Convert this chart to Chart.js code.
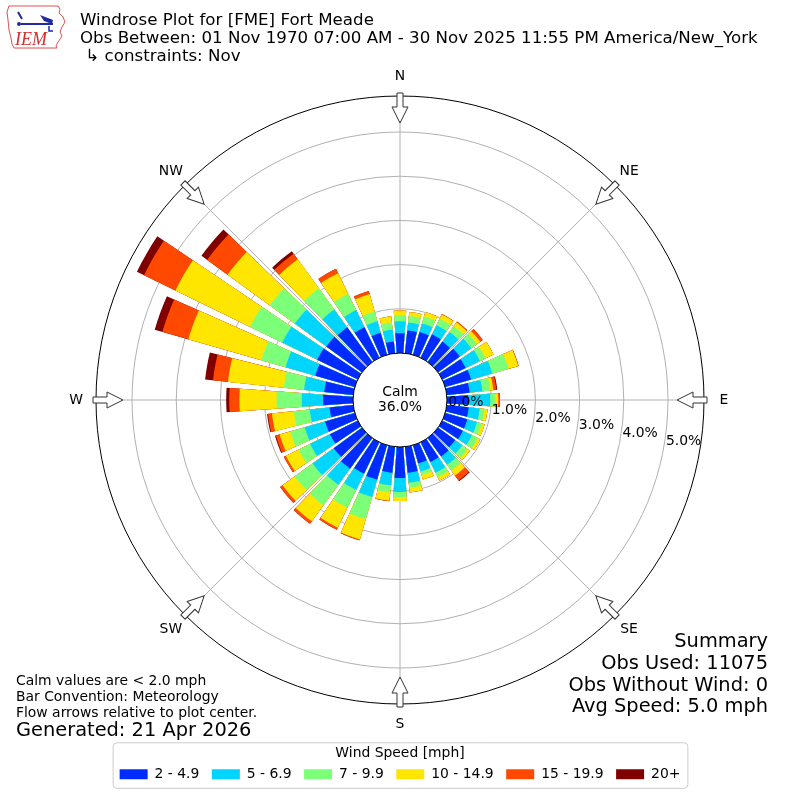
<!DOCTYPE html>
<html lang="en">
<head>
<meta charset="utf-8">
<title>Windrose Plot for [FME] Fort Meade</title>
<script src="https://cdn.jsdelivr.net/npm/chart.js@4.4.1/dist/chart.umd.min.js"></script>
<style>
  html, body { margin: 0; padding: 0; background: #ffffff; }
  #frame { position: relative; width: 800px; height: 800px; }
</style>
</head>
<body>
<div id="frame"><canvas id="windrose"></canvas></div>
<script>
// direction bins, degrees clockwise from north (meteorological convention)
const directions = [0, 10, 20, 30, 40, 50, 60, 70, 80, 90, 100, 110, 120, 130, 140, 150, 160, 170,
                    180, 190, 200, 210, 220, 230, 240, 250, 260, 270, 280, 290, 300, 310, 320, 330, 340, 350];
const compassLabels = ["N", "NE", "E", "SE", "S", "SW", "W", "NW"];
const speedBins = ["2 - 4.9", "5 - 6.9", "7 - 9.9", "10 - 14.9", "15 - 19.9", "20+"];
const binColors = ["#002bff", "#00d5ff", "#7cff79", "#ffe600", "#ff4800", "#800000"];

// percent of all observations, one value per direction bin
const bin2to5 = [0.45, 0.52, 0.54, 0.59, 0.57, 0.61, 0.59, 0.61, 0.52, 0.48, 0.50, 0.52,
                 0.52, 0.48, 0.52, 0.50, 0.43, 0.59, 0.70, 0.59, 0.81, 0.79, 0.86, 0.79,
                 0.70, 0.70, 0.54, 0.68, 0.66, 0.93, 1.02, 1.00, 0.97, 0.77, 0.52, 0.27];
const bin5to7 = [0.27, 0.18, 0.20, 0.23, 0.27, 0.32, 0.36, 0.50, 0.29, 0.50, 0.25, 0.23,
                 0.23, 0.20, 0.23, 0.27, 0.19, 0.23, 0.32, 0.29, 0.41, 0.41, 0.45, 0.59,
                 0.50, 0.48, 0.45, 0.48, 0.46, 0.70, 0.88, 0.88, 0.50, 0.43, 0.27, 0.27];
const bin7to10 = [0.14, 0.15, 0.16, 0.16, 0.16, 0.16, 0.14, 0.38, 0.18, 0.11, 0.11, 0.11,
                  0.14, 0.14, 0.16, 0.11, 0.08, 0.11, 0.11, 0.16, 0.52, 0.45, 0.57, 0.50,
                  0.29, 0.34, 0.36, 0.57, 0.46, 0.57, 0.81, 0.70, 0.59, 0.41, 0.23, 0.16];
const bin10to15 = [0.10, 0.09, 0.11, 0.11, 0.11, 0.09, 0.20, 0.23, 0.07, 0.07, 0.07, 0.07,
                   0.07, 0.07, 0.14, 0.09, 0.11, 0.11, 0.09, 0.19, 0.48, 0.50, 0.45, 0.34,
                   0.32, 0.25, 0.50, 0.84, 1.27, 1.72, 1.88, 1.18, 0.81, 0.52, 0.41, 0.14];
const bin15to20 = [0, 0, 0, 0.01, 0.02, 0.07, 0, 0.01, 0.07, 0.04, 0, 0,
                   0, 0, 0.14, 0, 0, 0, 0, 0.01, 0.02, 0.05, 0.07, 0.07,
                   0.05, 0.09, 0.09, 0.23, 0.34, 0.61, 0.79, 0.57, 0.16, 0.11, 0.07, 0];
const bin20plus = [0, 0, 0, 0, 0, 0, 0, 0, 0.02, 0, 0, 0,
                   0, 0, 0.02, 0, 0, 0, 0, 0, 0, 0, 0, 0,
                   0, 0.02, 0.02, 0.07, 0.18, 0.18, 0.18, 0.16, 0.07, 0, 0, 0];

const calmPercent = 36.0;
const ringTicks = [0, 1, 2, 3, 4, 5];
const holeSize = 1.063;   // radius of the calm hole, in % units
const outerLimit = 5.815; // outer edge of the plot, in % units

const binValues = [bin2to5, bin5to7, bin7to10, bin10to15, bin15to20, bin20plus];

// running totals so each ring sits on top of the slower ones
const cumulative = [];
let running = directions.map(() => 0);
binValues.forEach(vals => {
    running = running.map((v, i) => v + vals[i]);
    cumulative.push(running.slice());
});

// polarArea slices run clockwise from north, so put a half gap first and
// north last (it wraps back over 0 deg); gaps between bars are null slices
const barAngle = 8;
const gapAngle = 2;
function toSlices(vals) {
    const slices = [null];
    directions.forEach((d, i) => {
        if (d !== 0) slices.push(vals[i], null);
    });
    slices.pop();
    slices.push(null, vals[0]);
    return slices;
}

const datasets = speedBins.map((label, i) => ({
    label: label,
    data: toSlices(cumulative[i]),
    backgroundColor: binColors[i],
    borderWidth: 0,
    angle: ctx => ctx.dataIndex === 0 ? barAngle / 2 + gapAngle : (ctx.dataIndex % 2 ? barAngle : gapAngle),
}));

const fontFamily = "'DejaVu Sans', 'Liberation Sans', sans-serif";
Chart.defaults.font.family = fontFamily;
Chart.defaults.color = "#000";

function drawLogo(ctx) {
    ctx.save();
    ctx.strokeStyle = "#d9534f";
    ctx.lineWidth = 1;
    ctx.beginPath();
    const outline = [[9, 6], [58, 6], [60, 9], [59, 13], [63, 17], [65, 22], [62, 27], [60, 32],
                     [62, 36], [58, 42], [56, 46], [57, 48], [14, 48], [12, 44], [11, 38], [9, 30],
                     [8, 20], [7, 12]];
    outline.forEach(([x, y], i) => i ? ctx.lineTo(x, y) : ctx.moveTo(x, y));
    ctx.closePath();
    ctx.stroke();
    ctx.strokeStyle = "#1f2a9c";
    ctx.fillStyle = "#1f2a9c";
    ctx.lineWidth = 2;
    ctx.beginPath();
    ctx.moveTo(21, 24); ctx.lineTo(53, 24);
    ctx.moveTo(18, 12); ctx.lineTo(22, 19);
    ctx.stroke();
    ctx.beginPath();
    ctx.moveTo(40, 15); ctx.lineTo(53, 20); ctx.lineTo(52, 24); ctx.lineTo(44, 21);
    ctx.closePath();
    ctx.fill();
    ctx.beginPath();
    ctx.arc(19, 24, 2, 0, Math.PI * 2);
    ctx.fill();
    ctx.lineWidth = 1.5;
    ctx.beginPath();
    ctx.moveTo(49, 26); ctx.lineTo(49, 31); ctx.lineTo(53, 31);
    ctx.stroke();
    ctx.fillStyle = "#d32f2f";
    ctx.font = "italic 18px 'Liberation Serif', serif";
    ctx.textAlign = "left";
    ctx.textBaseline = "alphabetic";
    ctx.fillText("IEM", 15, 45);
    ctx.restore();
}

const roseDecor = {
    id: "roseDecor",
    afterDraw(chart) {
        const ctx = chart.ctx;
        const scale = chart.scales.r;
        const cx = scale.xCenter, cy = scale.yCenter, R = scale.drawingArea;
        const small = "13.9px " + fontFamily;
        const big = "19.4px " + fontFamily;
        ctx.save();

        // calm hole
        const hole = scale.getDistanceFromCenterForValue(0);
        ctx.beginPath();
        ctx.arc(cx, cy, hole, 0, Math.PI * 2);
        ctx.fillStyle = "#fff";
        ctx.fill();
        ctx.lineWidth = 1;
        ctx.strokeStyle = "#000";
        ctx.stroke();
        ctx.fillStyle = "#000";
        ctx.font = small;
        ctx.textAlign = "center";
        ctx.textBaseline = "middle";
        ctx.fillText("Calm", cx, cy - 8);
        ctx.fillText(calmPercent.toFixed(1) + "%", cx, cy + 7);

        // ring labels along 100 deg
        const labelAngle = 10 * Math.PI / 180;
        ctx.textAlign = "left";
        ringTicks.forEach(v => {
            const d = scale.getDistanceFromCenterForValue(v);
            ctx.fillText(v.toFixed(1) + "%", cx + d * Math.cos(labelAngle) + 2, cy + d * Math.sin(labelAngle) - 5.5);
        });

        // compass names and inward flow arrows
        compassLabels.forEach((name, i) => {
            const p = scale.getPointPosition(i, R + 20);
            ctx.textAlign = "center";
            ctx.fillStyle = "#000";
            ctx.fillText(name, p.x, p.y);
            ctx.save();
            ctx.translate(cx, cy);
            ctx.rotate(scale.getIndexAngle(i));
            ctx.beginPath();
            ctx.moveTo(-3, -(R + 3));
            ctx.lineTo(3, -(R + 3));
            ctx.lineTo(3, -(R - 11));
            ctx.lineTo(8, -(R - 11));
            ctx.lineTo(0, -(R - 27));
            ctx.lineTo(-8, -(R - 11));
            ctx.lineTo(-3, -(R - 11));
            ctx.closePath();
            ctx.fillStyle = "#fff";
            ctx.fill();
            ctx.strokeStyle = "#333";
            ctx.lineWidth = 1;
            ctx.stroke();
            ctx.restore();
        });

        // legend frame
        const lg = chart.legend;
        const boxes = lg.legendHitBoxes;
        if (boxes && boxes.length) {
            const first = boxes[0], last = boxes[boxes.length - 1];
            const x0 = first.left - 6.5, x1 = last.left + last.width + 7.5;
            const y0 = lg.top + lg.options.title.padding.top - 3.6, y1 = first.top + 21;
            ctx.beginPath();
            ctx.roundRect(x0, y0, x1 - x0, y1 - y0, 4);
            ctx.strokeStyle = "#cccccc";
            ctx.lineWidth = 1;
            ctx.stroke();
        }

        // header
        ctx.fillStyle = "#000";
        ctx.textAlign = "left";
        ctx.textBaseline = "alphabetic";
        ctx.font = "16.67px " + fontFamily;
        ctx.fillText("Windrose Plot for [FME] Fort Meade", 80, 25);
        ctx.fillText("Obs Between: 01 Nov 1970 07:00 AM - 30 Nov 2025 11:55 PM America/New_York", 80, 43);
        ctx.fillText(" \u21b3 constraints: Nov", 80, 61);

        // notes, bottom left
        ctx.font = small;
        ctx.fillText("Calm values are < 2.0 mph", 16, 685);
        ctx.fillText("Bar Convention: Meteorology", 16, 701);
        ctx.fillText("Flow arrows relative to plot center.", 16, 717);
        ctx.font = big;
        ctx.fillText("Generated: 21 Apr 2026", 16, 736);

        // summary, bottom right
        ctx.textAlign = "right";
        ctx.fillText("Summary", 768, 647);
        ctx.fillText("Obs Used: 11075", 768, 669);
        ctx.fillText("Obs Without Wind: 0", 768, 691);
        ctx.fillText("Avg Speed: 5.0 mph", 768, 712);

        drawLogo(ctx);
        ctx.restore();
    }
};

new Chart(document.getElementById("windrose"), {
    type: "polarArea",
    data: {
        labels: compassLabels,
        datasets: datasets,
    },
    options: {
        responsive: true,
        maintainAspectRatio: false,
        animation: false,
        events: [],
        layout: {
            padding: { top: 96, left: 96, right: 96, bottom: 8.75 },
        },
        scales: {
            r: {
                min: -holeSize,
                max: outerLimit,
                startAngle: 0,
                z: 1,
                afterBuildTicks: axis => {
                    axis.ticks = ringTicks.concat([outerLimit]).map(v => ({ value: v }));
                },
                ticks: { display: false },
                grid: {
                    circular: true,
                    lineWidth: 1,
                    color: ctx => (ctx.tick.value === 0 || ctx.tick.value === outerLimit) ? "#000" : "#b0b0b0",
                },
                angleLines: { display: true, color: "#b0b0b0", lineWidth: 1 },
                pointLabels: { display: false },
            },
        },
        plugins: {
            tooltip: { enabled: false },
            legend: {
                position: "bottom",
                labels: {
                    boxWidth: 28,
                    boxHeight: 10,
                    padding: 12.5,
                    color: "#000",
                    font: { size: 13.9 },
                    generateLabels: chart => chart.data.datasets.map((ds, i) => ({
                        text: ds.label,
                        fillStyle: ds.backgroundColor,
                        strokeStyle: ds.backgroundColor,
                        lineWidth: 0,
                        hidden: false,
                        datasetIndex: i,
                    })),
                },
                title: {
                    display: true,
                    text: "Wind Speed [mph]",
                    color: "#000",
                    font: { size: 13.9 },
                    padding: { top: 42.35, bottom: -8.2 },
                },
            },
        },
    },
    plugins: [roseDecor],
});
</script>
</body>
</html>
